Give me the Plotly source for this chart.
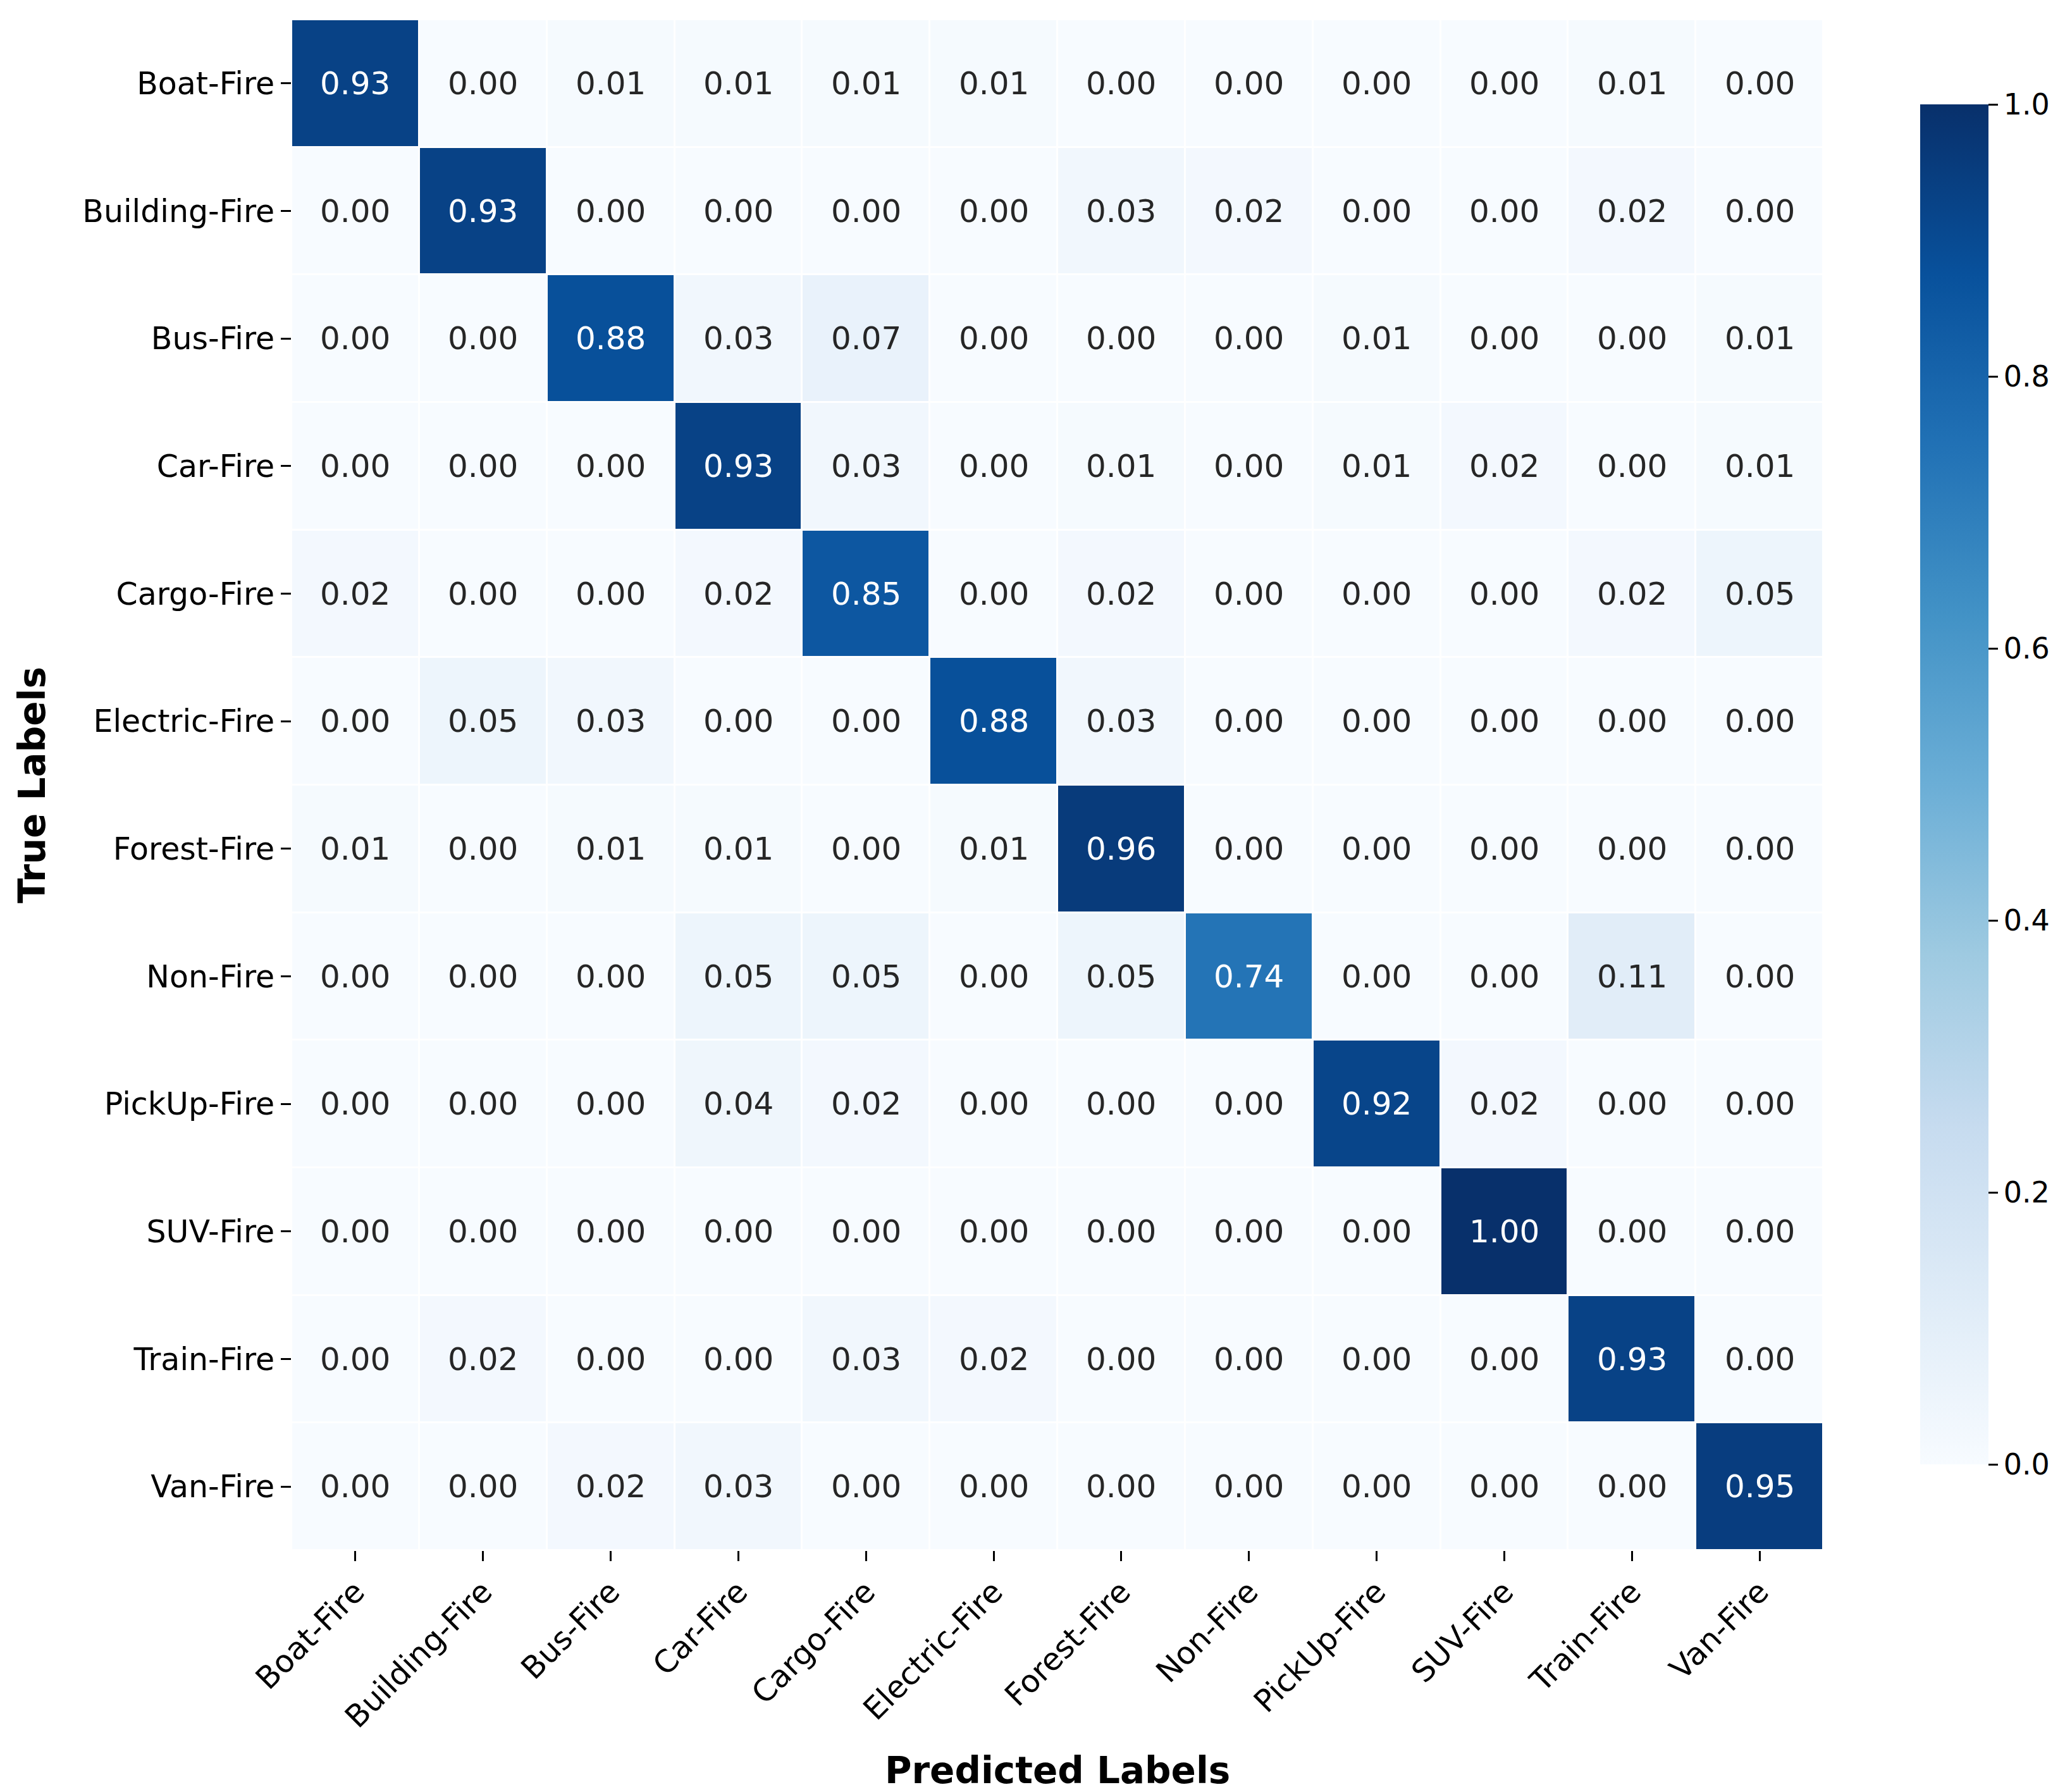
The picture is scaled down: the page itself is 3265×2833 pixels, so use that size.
import numpy as np
import plotly.graph_objects as go

# class names (same order for both axes)
classes = ['Boat-Fire', 'Building-Fire', 'Bus-Fire', 'Car-Fire', 'Cargo-Fire', 'Electric-Fire',
           'Forest-Fire', 'Non-Fire', 'PickUp-Fire', 'SUV-Fire', 'Train-Fire', 'Van-Fire']

# normalized confusion matrix, one row per true label
boat_fire = [0.93, 0.00, 0.01, 0.01, 0.01, 0.01, 0.00, 0.00, 0.00, 0.00, 0.01, 0.00]
building_fire = [0.00, 0.93, 0.00, 0.00, 0.00, 0.00, 0.03, 0.02, 0.00, 0.00, 0.02, 0.00]
bus_fire = [0.00, 0.00, 0.88, 0.03, 0.07, 0.00, 0.00, 0.00, 0.01, 0.00, 0.00, 0.01]
car_fire = [0.00, 0.00, 0.00, 0.93, 0.03, 0.00, 0.01, 0.00, 0.01, 0.02, 0.00, 0.01]
cargo_fire = [0.02, 0.00, 0.00, 0.02, 0.85, 0.00, 0.02, 0.00, 0.00, 0.00, 0.02, 0.05]
electric_fire = [0.00, 0.05, 0.03, 0.00, 0.00, 0.88, 0.03, 0.00, 0.00, 0.00, 0.00, 0.00]
forest_fire = [0.01, 0.00, 0.01, 0.01, 0.00, 0.01, 0.96, 0.00, 0.00, 0.00, 0.00, 0.00]
non_fire = [0.00, 0.00, 0.00, 0.05, 0.05, 0.00, 0.05, 0.74, 0.00, 0.00, 0.11, 0.00]
pickup_fire = [0.00, 0.00, 0.00, 0.04, 0.02, 0.00, 0.00, 0.00, 0.92, 0.02, 0.00, 0.00]
suv_fire = [0.00, 0.00, 0.00, 0.00, 0.00, 0.00, 0.00, 0.00, 0.00, 1.00, 0.00, 0.00]
train_fire = [0.00, 0.02, 0.00, 0.00, 0.03, 0.02, 0.00, 0.00, 0.00, 0.00, 0.93, 0.00]
van_fire = [0.00, 0.00, 0.02, 0.03, 0.00, 0.00, 0.00, 0.00, 0.00, 0.00, 0.00, 0.95]

cbar_ticks = [0.0, 0.2, 0.4, 0.6, 0.8, 1.0]

cm = np.array([boat_fire, building_fire, bus_fire, car_fire, cargo_fire, electric_fire,
               forest_fire, non_fire, pickup_fire, suv_fire, train_fire, van_fire])

W, H = 3265, 2833
left, right, top, bottom = 453, 2875, 23, 2443
pw, ph = right - left, bottom - top
font = 'DejaVu Sans'

fig = go.Figure()
fig.add_trace(go.Heatmap(
    z=cm, x=classes, y=classes, colorscale='Blues', zmin=0, zmax=1,
    xgap=3, ygap=3, hoverinfo='skip',
    colorbar=dict(
        xref='paper', x=(3028 - left) / pw, xanchor='left', xpad=0,
        yref='paper', y=(bottom - (157 + 2307) / 2) / ph, yanchor='middle', ypad=0,
        thickness=108, lenmode='pixels', len=2150, outlinewidth=0,
        tickvals=cbar_ticks, tickformat='.1f', ticks='outside', ticklen=15, tickwidth=3,
        tickcolor='black', tickfont=dict(family=font, size=46, color='black'),
    ),
))

# cell annotations: white on dark cells, dark grey on light cells
annotations = []
for i, row_name in enumerate(classes):
    for j, col_name in enumerate(classes):
        v = cm[i, j]
        annotations.append(dict(
            x=col_name, y=row_name, text=f'{v:.2f}', showarrow=False,
            font=dict(family=font, size=50, color='white' if v > 0.5 else '#262626'),
        ))

# axis titles
annotations.append(dict(
    text='Predicted Labels', xref='paper', yref='paper', x=0.5, y=(bottom - 2791) / ph,
    xanchor='center', yanchor='middle', showarrow=False,
    font=dict(family=font, size=58, color='black', weight='bold'),
))
annotations.append(dict(
    text='True Labels', xref='paper', yref='paper', x=(43 - left) / pw, y=0.5,
    xanchor='center', yanchor='middle', showarrow=False, textangle=-90,
    font=dict(family=font, size=58, color='black', weight='bold'),
))

fig.update_xaxes(tickangle=-45, ticks='outside', ticklen=16, tickwidth=3, tickcolor='black',
                 tickfont=dict(family=font, size=49, color='black'), showgrid=False,
                 zeroline=False, showline=False)
fig.update_yaxes(autorange='reversed', ticks='outside', ticklen=16, tickwidth=3, tickcolor='black',
                 tickfont=dict(family=font, size=49, color='black'), showgrid=False,
                 zeroline=False, showline=False)

fig.update_layout(
    width=W, height=H,
    margin=dict(l=left, r=W - right, t=top, b=H - bottom, autoexpand=False),
    paper_bgcolor='white', plot_bgcolor='white',
    font=dict(family=font, color='black'),
    annotations=annotations,
)

fig.write_html("out.html")
